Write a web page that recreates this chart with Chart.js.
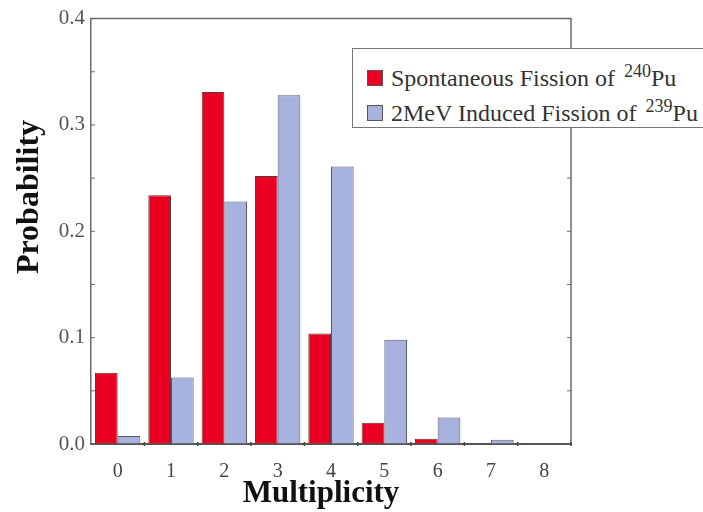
<!DOCTYPE html>
<html><head><meta charset="utf-8">
<script src="https://cdn.jsdelivr.net/npm/chart.js@4"></script>
<style>
html,body{margin:0;padding:0;background:#fff;}
#wrap{position:relative;width:703px;height:512px;overflow:hidden;}
#legend{position:absolute;left:352px;top:48px;width:351px;height:80px;border:1.5px solid #777;border-right:none;background:#fff;
 box-sizing:border-box;overflow:hidden;}
.row{position:absolute;left:14px;white-space:nowrap;line-height:24px;font-family:'Liberation Serif','Times New Roman','DejaVu Serif',serif;font-size:24px;color:#333;}
.sw{display:inline-block;width:16px;height:16px;border:1px solid #555;box-sizing:border-box;vertical-align:0px;margin-right:8px;}
sup{font-size:18px;vertical-align:9px;line-height:0;margin-left:3px;font-family:'Liberation Serif',serif;}
</style></head>
<body><div id="wrap"><canvas id="c" width="703" height="512"></canvas><div id="legend"></div></div>
<script>
const categories = ['0','1','2','3','4','5','6','7','8'];
const spontaneous240 = [0.067, 0.234, 0.331, 0.252, 0.104, 0.020, 0.005, 0.0005, 0];
const induced239 = [0.0075, 0.0625, 0.228, 0.328, 0.261, 0.098, 0.025, 0.004, 0.0005];
const seriesNames = ['Spontaneous Fission of ', '2MeV Induced Fission of '];
const isotopes = ['240', '239'];
const yTickLabels = ['0.0','0.1','0.2','0.3','0.4'];
const xTitle = 'Multiplicity';
const yTitle = 'Probability';
const colors = ['#ec0022', '#a7b2de'];

const serif = "'Liberation Serif','DejaVu Serif',serif";

const frame = {
  id: 'frame',
  afterDatasetsDraw(chart) {
    const {ctx, chartArea: a, scales} = chart;
    const y = scales.y, x = scales.x;
    ctx.save();
    ctx.strokeStyle = '#6a6a6a';
    ctx.lineWidth = 1.5;
    ctx.beginPath();
    ctx.moveTo(a.left, a.top); ctx.lineTo(a.right, a.top); ctx.lineTo(a.right, a.bottom);
    ctx.stroke();
    ctx.lineWidth = 1;
    y.ticks.forEach(t => {
      const py = y.getPixelForValue(t.value);
      ctx.beginPath();
      ctx.moveTo(a.left, py); ctx.lineTo(a.left + 4, py);
      ctx.moveTo(a.right, py); ctx.lineTo(a.right - 4, py);
      ctx.stroke();
    });
    const half = (x.getPixelForValue(1) - x.getPixelForValue(0)) / 2;
    ctx.lineWidth = 1.5;
    ctx.strokeStyle = '#444';
    for (let i = 0; i < categories.length; i++) {
      const px = x.getPixelForValue(i) + half;
      ctx.beginPath(); ctx.moveTo(px, a.bottom - 2); ctx.lineTo(px, a.bottom + 2); ctx.stroke();
    }
    // axis titles
    ctx.fillStyle = '#111';
    ctx.font = 'bold 31px ' + serif;
    ctx.textAlign = 'center';
    ctx.textBaseline = 'middle';
    ctx.fillText(xTitle, 321, 494);
    ctx.font = 'bold 32px ' + serif;
    ctx.translate(30, 197);
    ctx.rotate(-Math.PI / 2);
    ctx.fillText(yTitle, 0, 0);
    ctx.restore();
  }
};

new Chart(document.getElementById('c'), {
  type: 'bar',
  data: {
    labels: categories,
    datasets: [
      {label: seriesNames[0] + isotopes[0] + 'Pu', data: spontaneous240, backgroundColor: colors[0], borderColor: '#5a3a3a', borderWidth: 1},
      {label: seriesNames[1] + isotopes[1] + 'Pu', data: induced239, backgroundColor: colors[1], borderColor: '#555a70', borderWidth: 1}
    ]
  },
  options: {
    responsive: false,
    animation: false,
    layout: {padding: {left: 0, right: 132, top: 15, bottom: 0}},
    datasets: {bar: {categoryPercentage: 0.85, barPercentage: 1.0}},
    plugins: {legend: {display: false}, tooltip: {enabled: false}},
    scales: {
      x: {
        offset: true,
        grid: {display: false, drawTicks: false},
        border: {display: true, color: '#555', width: 2},
        ticks: {font: {family: serif, size: 20}, color: '#444', padding: 16},
        afterFit(s) { s.height = 68; }
      },
      y: {
        min: 0, max: 0.4,
        grid: {display: true, drawOnChartArea: false, drawTicks: false},
        border: {display: true, color: '#6a6a6a', width: 1.5},
        ticks: {
          stepSize: 0.05, padding: 6, color: '#555', font: {family: serif, size: 21},
          callback: (v, i) => (i % 2 === 0 ? yTickLabels[i / 2] : '')
        },
        afterFit(s) { s.width = 91; }
      }
    }
  },
  plugins: [frame]
});

const lg = document.getElementById('legend');
seriesNames.forEach((n, i) => {
  const r = document.createElement('div');
  r.className = 'row';
  r.style.top = (i === 0 ? 17 : 52) + 'px';
  r.innerHTML = '<span class="sw" style="background:' + colors[i] + '"></span>' + n + '<sup>' + isotopes[i] + '</sup>Pu';
  lg.appendChild(r);
});
</script></body></html>
